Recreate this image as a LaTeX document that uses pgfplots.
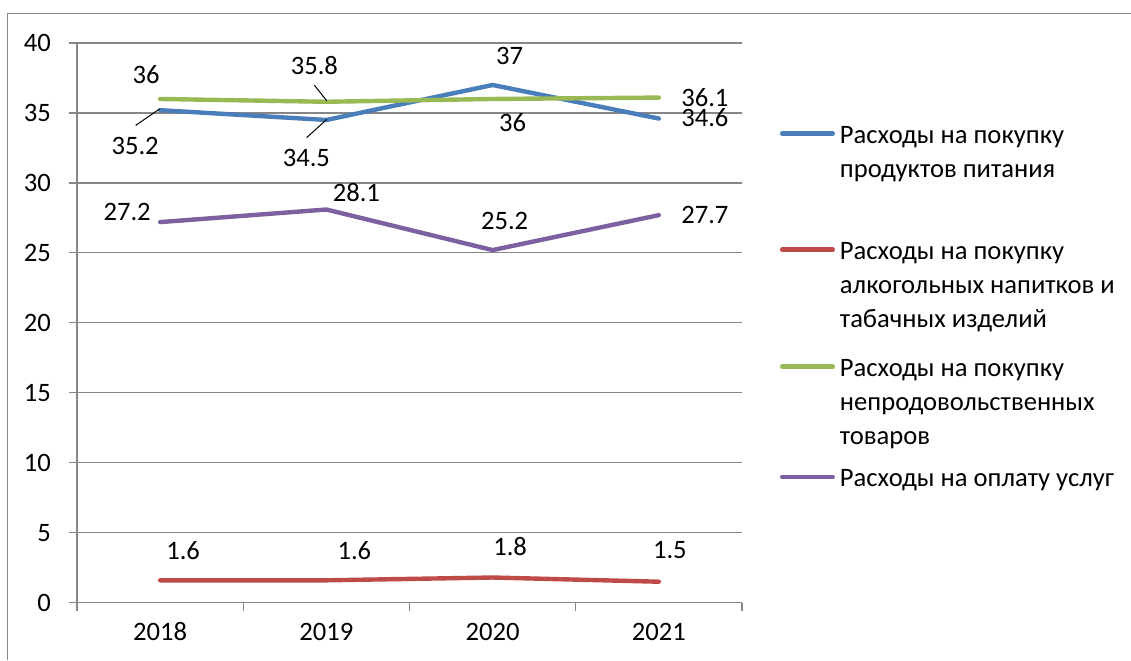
\documentclass[border=0pt]{standalone}
\usepackage{fontspec}
\setmainfont{Carlito}
\usepackage{pgfplots}
\pgfplotsset{compat=1.18}
\definecolor{sblue}{HTML}{4A7EBB}
\definecolor{sred}{HTML}{BE4B48}
\definecolor{sgreen}{HTML}{98B954}
\definecolor{spurple}{HTML}{7D60A0}
\definecolor{gridgray}{HTML}{868686}
\newcommand{\LT}[2]{\vtop to #1{\baselineskip=17pt\relax #2\vss}}
\newcommand{\fs}{\fontsize{13.3pt}{16pt}\selectfont}
\begin{document}
\begin{tikzpicture}
\useasboundingbox (0,0) rectangle (565.5pt,330pt);
\draw[gridgray, line width=0.5pt] (3.75pt,0pt) -- (3.75pt,323pt) -- (565.5pt,323pt);
\begin{axis}[
 at={(38.5pt,28.65pt)}, anchor=south west,
 scale only axis, width=332.5pt, height=279.85pt,
 xmin=-0.5, xmax=3.5, ymin=0, ymax=40,
 xtick={0,1,2,3}, xticklabels={2018,2019,2020,2021},
 minor xtick={-0.5,0.5,1.5,2.5,3.5},
 ytick={0,5,...,40},
 tick align=outside,
 major tick length=4pt, minor tick length=4pt,
 major x tick style={draw=none},
 minor x tick style={draw=gridgray, line width=0.6pt},
 ytick style={draw=gridgray, line width=0.6pt},
 ymajorgrids, grid style={draw=gridgray, line width=0.6pt},
 axis x line*=bottom, axis y line*=left,
 axis line style={draw=gridgray, line width=0.6pt, -},
 font=\fs,
 ticklabel style={font=\fs},
 yticklabel style={xshift=-5.5pt},
 xticklabel style={yshift=-2.5pt},
 /pgf/number format/assume math mode=true,
 clip=false,
 legend style={at={(1.0571,0.8508)}, anchor=north west, draw=none, fill=none,
   inner sep=0pt, outer sep=0pt, row sep=0pt, column sep=2.5pt,
   cells={anchor=base west},
   nodes={inner sep=0pt, text depth=, text height=, font=\fs}},
 legend image code/.code={\draw[#1, line cap=round] (1.1pt,5pt)--(26.4pt,5pt);},
 every axis plot/.append style={line width=2.2pt, line cap=round, line join=round},
]
\addplot[sblue] coordinates {(0,35.2)(1,34.5)(2,37)(3,34.6)};
\addlegendentry{\LT{58pt}{\hbox{Расходы на покупку}\hbox{продуктов питания}}}
\addplot[sred] coordinates {(0,1.6)(1,1.6)(2,1.8)(3,1.5)};
\addlegendentry{\LT{58.5pt}{\hbox{Расходы на покупку}\hbox{алкогольных напитков и}\hbox{табачных изделий}}}
\addplot[sgreen] coordinates {(0,36)(1,35.8)(2,36)(3,36.1)};
\addlegendentry{\LT{55.2pt}{\hbox{Расходы на покупку}\hbox{непродовольственных}\hbox{товаров}}}
\addplot[spurple] coordinates {(0,27.2)(1,28.1)(2,25.2)(3,27.7)};
\addlegendentry{Расходы на оплату услуг}

% data labels
\node[xshift=-12.5pt,yshift=-17.8pt] at (axis cs:0,35.2) {35.2};
\node[xshift=-10pt,yshift=-19pt] at (axis cs:1,34.5) {34.5};
\node[xshift=8.5pt,yshift=14.5pt] at (axis cs:2,37) {37};
\node[xshift=23pt,yshift=0.5pt] at (axis cs:3,34.6) {34.6};
\node[xshift=11.5pt,yshift=15pt] at (axis cs:0,1.6) {1.6};
\node[xshift=14pt,yshift=15pt] at (axis cs:1,1.6) {1.6};
\node[xshift=8.75pt,yshift=15.3pt] at (axis cs:2,1.8) {1.8};
\node[xshift=5.5pt,yshift=15.8pt] at (axis cs:3,1.5) {1.5};
\node[xshift=-7pt,yshift=12pt] at (axis cs:0,36) {36};
\node[xshift=-6pt,yshift=18pt] at (axis cs:1,35.8) {35.8};
\node[xshift=10pt,yshift=-12pt] at (axis cs:2,36) {36};
\node[xshift=23pt,yshift=0pt] at (axis cs:3,36.1) {36.1};
\node[xshift=-16.5pt,yshift=5pt] at (axis cs:0,27.2) {27.2};
\node[xshift=15pt,yshift=8.5pt] at (axis cs:1,28.1) {28.1};
\node[xshift=6pt,yshift=14.5pt] at (axis cs:2,25.2) {25.2};
\node[xshift=23pt,yshift=0pt] at (axis cs:3,27.7) {27.7};
% leader lines
\draw[black, line width=0.5pt] ([shift={(-12.2pt,-7.6pt)}]axis cs:0,35.2) -- ([shift={(-0.3pt,0.6pt)}]axis cs:0,35.2);
\draw[black, line width=0.5pt] ([shift={(-9.8pt,-8.8pt)}]axis cs:1,34.5) -- ([shift={(0.2pt,0.3pt)}]axis cs:1,34.5);
\draw[black, line width=0.5pt] ([shift={(-6pt,8.3pt)}]axis cs:1,35.8) -- ([shift={(0.2pt,0.45pt)}]axis cs:1,35.8);
\end{axis}
\end{tikzpicture}
\end{document}
